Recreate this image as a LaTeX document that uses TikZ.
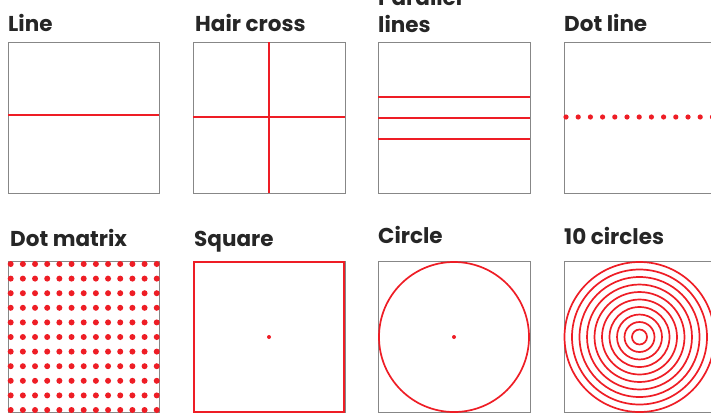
\documentclass[tikz,border=0pt]{standalone}
\usepackage{fontspec}
\setmainfont{Poppins}
\definecolor{testred}{HTML}{EE1D25}
\definecolor{framegray}{HTML}{878787}
\tikzset{
  frame/.style={draw=framegray, line width=1pt},
  pattern/.style={draw=testred, line width=1.7pt},
  title/.style={anchor=base west, inner sep=0pt, text=black!85,
    font=\bfseries\fontsize{21.5}{27}\selectfont, align=left},
}
\begin{document}
\begin{tikzpicture}[x=1pt,y=-1pt]
	\useasboundingbox (0,0) rectangle (711,413);
	\clip (0,0) rectangle (711,413);

	% first row
	\node[title] (tline) at (8,31.5) {Line};
	\node[title] (tcross) at (195,31.5) {Hair cross};
	\node[title] (tpar) at (378,32) {Parallel\\lines};
	\node[title] (tdotl) at (564,31.5) {Dot line};

	\draw[frame] (8,42) rectangle (159,193);
	\draw[pattern] (8,115) -- (159,115);

	\draw[frame] (193,42) rectangle (345,193);
	\draw[pattern] (193,117) -- (345,117);
	\draw[pattern] (269,42) -- (269,193);

	\draw[frame] (378,42) rectangle (530,193);
	\foreach \y in {97,118,139}
		\draw[pattern] (378,\y) -- (530,\y);

	\draw[frame] (564,42) rectangle (715,193);
	\foreach \i in {0,...,13}
		\fill[testred] (566+12.2*\i,117) circle(2.6);

	% second row
	\node[title] (tmatrix) at (10,246.5) {Dot matrix};
	\node[title] (tsquare) at (194,246) {Square};
	\node[title] (tcircle) at (378,243.5) {Circle};
	\node[title] (tcircles) at (564,244) {10 circles};

	\draw[frame] (8,261.5) rectangle (159,412.5);
	\foreach \i in {0,...,12}
		\foreach \j in {0,...,10}
			\fill[testred] (10.7+12.17*\i,264+14.6*\j) circle(3);

	\draw[frame] (193,261.5) rectangle (345,412.5);
	\draw[testred, line width=2.2pt] (194,262.3) rectangle (344,412);
	\fill[testred] (269,337) circle(2);

	\draw[frame] (378,261.5) rectangle (530,412.5);
	\draw[pattern] (454,337) circle(75);
	\fill[testred] (454,337) circle(2);

	\draw[frame] (564,261.5) rectangle (715,412.5);
	\foreach \r in {1,...,10}
		\draw[pattern] (639.5,337) circle(7.5*\r);
\end{tikzpicture}
\end{document}
